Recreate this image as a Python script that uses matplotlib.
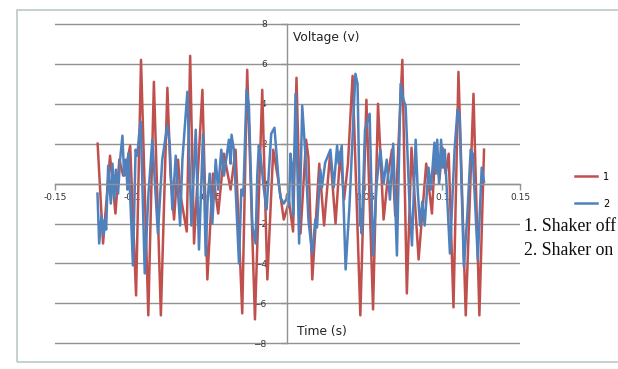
import matplotlib.pyplot as plt
from matplotlib.patches import Rectangle

# series 1 (shaker off): time [s], voltage [v]
t1 = [-0.1225, -0.1190, -0.1145, -0.1110, -0.1085, -0.1060, -0.1035, -0.1015,
      -0.0977, -0.0945, -0.0898, -0.0862, -0.0817, -0.0775, -0.0755, -0.0732,
      -0.0706, -0.0690, -0.0650, -0.0628, -0.0603, -0.0549, -0.0517, -0.0481,
      -0.0447, -0.0410, -0.0367, -0.0335, -0.0292, -0.0260, -0.0210, -0.0163,
      -0.0130, -0.0092, -0.0060, -0.0024, 0.0010, 0.0036, 0.0058, 0.0084,
      0.0120, 0.0135, 0.0160, 0.0205, 0.0236, 0.0275, 0.0310, 0.0341,
      0.0365, 0.0390, 0.0420, 0.0470, 0.0509, 0.0552, 0.0584, 0.0620,
      0.0650, 0.0674, 0.0695, 0.0741, 0.0770, 0.0800, 0.0846, 0.0895,
      0.0932, 0.0953, 0.0980, 0.1000, 0.1020, 0.1040, 0.1071, 0.1103,
      0.1150, 0.1200, 0.1238, 0.1268]
v1 = [2.0, -3.0, 1.4, -1.5, 1.2, 0.4, 1.1, 1.9,
      -5.6, 6.2, -6.6, 5.1, -6.6, 4.8, 0.5, -1.8,
      1.2, -0.6, -2.4, 6.4, -3.0, 4.7, -4.8, 0.5,
      -1.5, 1.5, -0.3, 1.7, -6.5, 5.7, -6.8, 4.7,
      -4.8, 1.7, 0.2, -1.8, -0.9, -2.4, 5.3, -2.5,
      2.2, 1.3, -4.8, 1.0, -2.1, 1.5, -2.0, 1.6,
      -0.8, 1.0, 5.4, -6.6, 4.2, -6.3, 4.0, -1.8,
      0.5, 1.7, -1.6, 6.2, -5.5, 1.8, -3.8, 1.0,
      -1.5, 1.7, 0.2, 1.8, 0.5, 1.5, -6.2, 5.6,
      -6.6, 4.5, -6.6, 1.7]

# series 2 (shaker on)
t2 = [-0.1226, -0.1215, -0.1200, -0.1187, -0.1178, -0.1170, -0.1157, -0.1140,
      -0.1129, -0.1118, -0.1107, -0.1093, -0.1080, -0.1065, -0.1054, -0.1043,
      -0.1032, -0.1026, -0.0997, -0.0980, -0.0969, -0.0958, -0.0947, -0.0921,
      -0.0897, -0.0872, -0.0836, -0.0808, -0.0776, -0.0760, -0.0743, -0.0721,
      -0.0693, -0.0678, -0.0646, -0.0620, -0.0592, -0.0571, -0.0545, -0.0528,
      -0.0515, -0.0502, -0.0485, -0.0463, -0.0448, -0.0427, -0.0410, -0.0378,
      -0.0367, -0.0361, -0.0346, -0.0313, -0.0298, -0.0285, -0.0264, -0.0249,
      -0.0227, -0.0206, -0.0195, -0.0185, -0.0174, -0.0152, -0.0135, -0.0105,
      -0.0084, -0.0071, -0.0056, -0.0045, -0.0024, -0.0002, 0.0010, 0.0019,
      0.0030, 0.0036, 0.0052, 0.0075, 0.0095, 0.0116, 0.0135, 0.0159,
      0.0180, 0.0190, 0.0212, 0.0222, 0.0243, 0.0277, 0.0298, 0.0320,
      0.0330, 0.0350, 0.0375, 0.0400, 0.0438, 0.0452, 0.0468, 0.0474,
      0.0479, 0.0500, 0.0530, 0.0552, 0.0575, 0.0599, 0.0620, 0.0640,
      0.0661, 0.0682, 0.0706, 0.0730, 0.0748, 0.0762, 0.0785, 0.0803,
      0.0827, 0.0840, 0.0855, 0.0870, 0.0885, 0.0910, 0.0925, 0.0948,
      0.0957, 0.0966, 0.0978, 0.0991, 0.1002, 0.1015, 0.1048, 0.1078,
      0.1097, 0.1110, 0.1138, 0.1160, 0.1182, 0.1195, 0.1228, 0.1253,
      0.1268]
v2 = [-0.5, -3.0, -1.6, -2.6, -1.8, -2.3, 0.9, -1.0,
      1.0, -0.8, 0.7, -0.5, 1.2, 2.4, 0.4, 1.2,
      -0.3, 1.5, -4.1, 1.7, 1.4, 2.4, 3.1, -4.5,
      -0.5, 2.2, -2.5, 1.2, 2.9, 2.0, -1.3, 1.4,
      -2.1, 1.2, 4.6, -2.1, 2.7, -3.3, 2.5, -3.6,
      -0.8, 0.5, -2.0, 1.2, -0.3, 1.7, 0.4, 2.2,
      1.0, 2.45, 1.7, -4.0, -0.3, -0.6, 4.7, 3.9,
      -2.1, -3.0, 0.4, 1.9, 1.4, -0.3, -1.3, 2.5,
      2.8, 1.5, 0.0, -0.7, -1.0, -0.7, -1.1, 1.5,
      0.8, -1.6, 4.5, -3.0, 3.9, 1.4, -1.8, -3.5,
      -1.8, -2.2, 0.7, -0.2, 1.05, 1.7, -0.2, 1.9,
      1.0, 1.9, -4.3, -1.1, 5.5, 5.0, -2.1, -1.3,
      -2.5, 2.7, 3.5, -3.6, 0.0, 1.7, 0.0, 1.2,
      -0.8, 2.0, -3.6, 5.0, 4.2, 3.9, -0.6, -3.1,
      2.2, -0.3, -2.1, -0.9, -2.1, 0.8, -0.3, 2.05,
      0.5, 2.2, 0.0, 2.2, 0.8, 1.7, -3.5, 1.7,
      3.7, 3.4, -4.15, -1.6, 1.7, 1.5, -3.8, 0.8,
      0.1]

x_ticks = [-0.15, -0.1, -0.05, 0, 0.05, 0.1, 0.15]
x_tick_labels = ["-0.15", "-0.1", "-0.05", "0", "0.05", "0.1", "0.15"]
y_ticks = [-8, -6, -4, -2, 0, 2, 4, 6, 8]

RED = "#C0504D"
BLUE = "#4F81BD"
GRID = "#929292"

fig = plt.figure(figsize=(6.18, 3.69), dpi=100)
ax = fig.add_axes([0.089, 0.0642, 0.7524, 0.8764])

ax.plot(t1, v1, color=RED, lw=1.8, solid_joinstyle="round", label="1")
ax.plot(t2, v2, color=BLUE, lw=1.8, solid_joinstyle="round", label="2")

ax.set_xlim(-0.15, 0.15)
ax.set_ylim(-8.1, 8.1)
ax.set_xticks(x_ticks)
ax.set_xticklabels(x_tick_labels)
ax.set_yticks(y_ticks)

# Excel-style axes crossing at the origin
for side in ["top", "right"]:
    ax.spines[side].set_visible(False)
ax.spines["left"].set_position(("data", 0))
ax.spines["bottom"].set_position(("data", 0))
ax.spines["left"].set_bounds(-8, 8)
for side in ["left", "bottom"]:
    ax.spines[side].set_color(GRID)
    ax.spines[side].set_linewidth(1.0)
ax.set_axisbelow(True)
ax.yaxis.grid(True, color=GRID, lw=1.0)
ax.tick_params(axis="both", colors=GRID, labelcolor="#333333", labelsize=6.5,
               length=4, width=1.0, direction="out")
ax.tick_params(axis="x", pad=3)
ax.tick_params(axis="y", pad=11)

ax.text(0.0035, 7.3, "Voltage (v)", fontsize=8.8, color="#222222", va="center")
ax.text(0.0063, -7.4, "Time (s)", fontsize=8.8, color="#222222", va="center")

fig.legend(loc="upper left", bbox_to_anchor=(0.93, 0.535), frameon=False,
           fontsize=7, handlelength=2.3, labelspacing=1.75, handletextpad=0.6,
           borderpad=0, borderaxespad=0)

fig.text(0.848, 0.387, "1. Shaker off", family="Liberation Serif", fontsize=12.8,
         color="#111111", va="center")
fig.text(0.848, 0.321, "2. Shaker on", family="Liberation Serif", fontsize=12.8,
         color="#111111", va="center")

# chart frame (runs off the right edge like the source)
fig.add_artist(Rectangle((0.028, 0.02), 1.0, 0.952, transform=fig.transFigure,
                         fill=False, edgecolor="#b9c9c9", lw=1.2))

fig.savefig("out.png", dpi=100)
